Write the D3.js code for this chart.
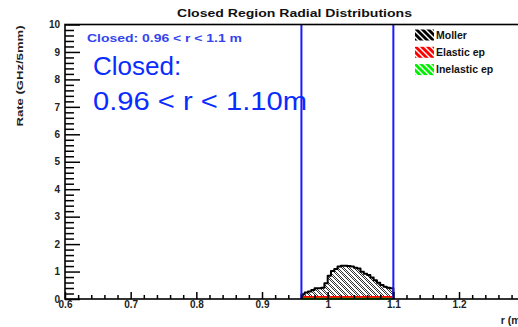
<!DOCTYPE html>
<html>
<head>
<meta charset="utf-8">
<script src="https://cdn.jsdelivr.net/npm/d3@7"></script>
<style>
  html, body { margin: 0; padding: 0; background: #fff; }
  svg { display: block; }
  text { font-family: "Liberation Sans", Arial, Helvetica, sans-serif; }
</style>
</head>
<body>
<svg id="chart" width="518" height="327"></svg>
<script>
// Radial distributions in the closed region, 5 mm bins
const binCentres = [0.9625, 0.9675, 0.9725, 0.9775, 0.9825, 0.9875, 0.9925, 0.9975,
                    1.0025, 1.0075, 1.0125, 1.0175, 1.0225, 1.0275, 1.0325, 1.0375,
                    1.0425, 1.0475, 1.0525, 1.0575, 1.0625, 1.0675, 1.0725, 1.0775,
                    1.0825, 1.0875, 1.0925, 1.0975];
const binWidth = 0.005;
const moller    = [0.17, 0.24, 0.27, 0.33, 0.39, 0.39, 0.41, 0.57,
                   0.85, 1.02, 1.09, 1.18, 1.21, 1.21, 1.20, 1.18,
                   1.14, 1.11, 0.99, 0.92, 0.87, 0.78, 0.68, 0.59,
                   0.51, 0.45, 0.41, 0.39];
const elastic   = [0.07, 0.07, 0.07, 0.07, 0.07, 0.07, 0.07, 0.07,
                   0.07, 0.07, 0.07, 0.07, 0.07, 0.07, 0.07, 0.07,
                   0.07, 0.07, 0.07, 0.07, 0.07, 0.07, 0.07, 0.07,
                   0.07, 0.07, 0.07, 0.07];
const inelastic = [0.01, 0.01, 0.01, 0.01, 0.01, 0.01, 0.01, 0.01,
                   0.01, 0.01, 0.01, 0.01, 0.01, 0.01, 0.01, 0.01,
                   0.01, 0.01, 0.01, 0.01, 0.01, 0.01, 0.01, 0.01,
                   0.01, 0.01, 0.01, 0.01];
const regionEdges = [0.96, 1.1];
const xTicks = [0.6, 0.7, 0.8, 0.9, 1.0, 1.1, 1.2, 1.3];
const xTickLabels = ["0.6", "0.7", "0.8", "0.9", "1", "1.1", "1.2", "1.3"];
const yTicks = [0, 1, 2, 3, 4, 5, 6, 7, 8, 9, 10];
const legendNames = ["Moller", "Elastic ep", "Inelastic ep"];
const legendColours = ["#000000", "#ff0000", "#00ee00"];

const blue = "#1a1aff";
const svg = d3.select("#chart");

const frame = { left: 65, top: 24.5, bottom: 299, right: 524.7 };
const x = d3.scaleLinear().domain([0.6, 1.3]).range([frame.left, frame.right]);
const y = d3.scaleLinear().domain([0, 10]).range([frame.bottom, frame.top]);

// ---- fill patterns ----
const defs = svg.append("defs");
function hatch(id, bg, fg, dots) {
  const p = defs.append("pattern").attr("id", id)
    .attr("patternUnits", "userSpaceOnUse").attr("width", 6).attr("height", 6);
  p.append("rect").attr("width", 6).attr("height", 6).attr("fill", bg);
  if (dots) {
    for (let i = 0; i < 6; i++) for (let j = 0; j < 6; j++)
      if ((i + j) % 2 === 0) p.append("rect").attr("x", i).attr("y", j)
        .attr("width", 1).attr("height", 1).attr("fill", fg);
  }
  p.append("path").attr("d", "M-1,-1 L7,7 M-1,5 L1,7 M5,-1 L7,1")
    .attr("stroke", "#fff").attr("stroke-width", 1.4);
}
hatch("histFill", "#ffffff", "#333", true);
hatch("legMoller", "#000000", "#fff", false);
hatch("legElastic", "#ff0000", "#fff", false);
hatch("legInelastic", "#00ee00", "#fff", false);
const legendFills = ["url(#legMoller)", "url(#legElastic)", "url(#legInelastic)"];

// ---- title ----
svg.append("text").attr("x", 294.5).attr("y", 17).attr("text-anchor", "middle")
  .attr("font-size", 10.5).attr("font-weight", "bold").attr("fill", "#111")
  .attr("textLength", 235).attr("lengthAdjust", "spacingAndGlyphs")
  .text("Closed Region Radial Distributions");

// ---- histograms ----
function stepPoints(vals) {
  const pts = [];
  vals.forEach((v, i) => {
    pts.push([binCentres[i] - binWidth / 2, v]);
    pts.push([binCentres[i] + binWidth / 2, v]);
  });
  return pts;
}
const area = d3.area().x(d => x(d[0])).y0(y(0)).y1(d => y(d[1]));
const outline = d3.line().x(d => x(d[0])).y(d => y(d[1]));

const mPts = stepPoints(moller);
svg.append("path").attr("d", area(mPts)).attr("fill", "url(#histFill)");
const mOutline = [[mPts[0][0], 0], ...mPts, [mPts[mPts.length - 1][0], 0]];
svg.append("path").attr("d", outline(mOutline)).attr("fill", "none")
  .attr("stroke", "#000").attr("stroke-width", 2).attr("stroke-linejoin", "round");

svg.append("path").attr("d", outline(stepPoints(elastic))).attr("fill", "none")
  .attr("stroke", "#ff0000").attr("stroke-width", 2);
svg.append("path").attr("d", outline(stepPoints(inelastic))).attr("fill", "none")
  .attr("stroke", "#00ee00").attr("stroke-width", 2);

// ---- region boundaries ----
svg.selectAll(".edge").data(regionEdges).join("line").attr("class", "edge")
  .attr("x1", d => x(d)).attr("x2", d => x(d))
  .attr("y1", frame.top).attr("y2", frame.bottom)
  .attr("stroke", blue).attr("stroke-width", 2);

// ---- axes ----
const tickFont = g => g.selectAll("text")
  .attr("font-family", "'Liberation Sans', Arial, sans-serif")
  .attr("font-size", 10).attr("font-weight", "bold").attr("fill", "#222");

const xMinor = d3.range(0, 36).map(i => 0.6 + i * 0.02).filter(v => Math.round(v * 100) % 10 !== 0);
svg.append("g").attr("transform", `translate(0,${frame.bottom})`)
  .call(d3.axisBottom(x).tickValues(xMinor).tickSize(-4).tickFormat(""))
  .call(g => g.select(".domain").remove())
  .call(g => g.selectAll("line").attr("stroke", "#000").attr("stroke-width", 1.5));
svg.append("g").attr("transform", `translate(0,${frame.bottom})`)
  .call(d3.axisBottom(x).tickValues(xTicks).tickSize(-7).tickPadding(2)
    .tickFormat((d, i) => xTickLabels[i]))
  .call(g => g.select(".domain").remove())
  .call(g => g.selectAll("line").attr("stroke", "#000").attr("stroke-width", 1.5))
  .call(tickFont);

const yMinor = d3.range(0, 51).map(i => i * 0.2).filter(v => Math.abs(v - Math.round(v)) > 1e-6);
svg.append("g").attr("transform", `translate(${frame.left},0)`)
  .call(d3.axisLeft(y).tickValues(yMinor).tickSize(-9).tickFormat(""))
  .call(g => g.select(".domain").remove())
  .call(g => g.selectAll("line").attr("stroke", "#000").attr("stroke-width", 1.5));
svg.append("g").attr("transform", `translate(${frame.left},0)`)
  .call(d3.axisLeft(y).tickValues(yTicks).tickSize(-15).tickPadding(5).tickFormat(d3.format("d")))
  .call(g => g.select(".domain").remove())
  .call(g => g.selectAll("line").attr("stroke", "#000").attr("stroke-width", 1.5))
  .call(tickFont);

// frame
svg.append("rect").attr("x", frame.left).attr("y", frame.top)
  .attr("width", frame.right - frame.left).attr("height", frame.bottom - frame.top)
  .attr("fill", "none").attr("stroke", "#000").attr("stroke-width", 1.6);

// axis titles
svg.append("text").attr("transform", "translate(23,76) rotate(-90)")
  .attr("text-anchor", "middle").attr("font-size", 9).attr("font-weight", "bold")
  .attr("fill", "#222").attr("textLength", 101).attr("lengthAdjust", "spacingAndGlyphs")
  .text("Rate (GHz/5mm)");
svg.append("text").attr("x", 524).attr("y", 324).attr("text-anchor", "end")
  .attr("font-size", 10.5).attr("font-weight", "bold").attr("fill", "#222")
  .text("r (m)");

// ---- legend ----
const leg = svg.append("g");
legendNames.forEach((name, i) => {
  const yy = 35 + i * 17.3;
  leg.append("rect").attr("x", 415).attr("y", yy - 5.5).attr("width", 19).attr("height", 11)
    .attr("fill", legendFills[i]);
  leg.append("text").attr("x", 436).attr("y", yy + 3.8)
    .attr("font-size", 10.5).attr("font-weight", "bold").attr("fill", "#111")
    .text(name);
});

// ---- annotations ----
svg.append("text").attr("x", 87).attr("y", 42)
  .attr("font-size", 10).attr("font-weight", "bold").attr("fill", "#3344ee")
  .attr("textLength", 155).attr("lengthAdjust", "spacingAndGlyphs")
  .text("Closed: 0.96 < r < 1.1 m");
svg.append("text").attr("x", 93).attr("y", 75)
  .attr("font-size", 26).attr("fill", "#0a2cff").text("Closed:");
svg.append("text").attr("x", 93).attr("y", 110)
  .attr("font-size", 26).attr("fill", "#0a2cff")
  .attr("textLength", 214).attr("lengthAdjust", "spacingAndGlyphs")
  .text("0.96 < r < 1.10m");
</script>
</body>
</html>
